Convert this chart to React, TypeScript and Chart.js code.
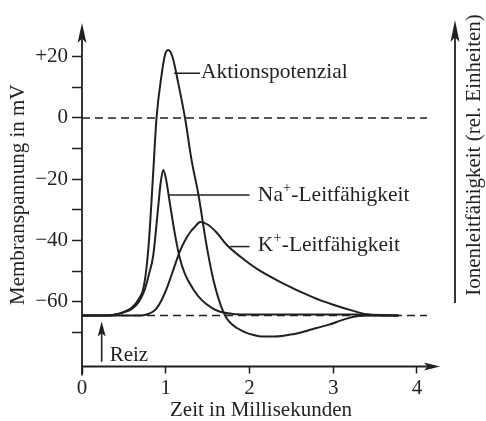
import React, { useEffect, useRef } from 'react';
import { Chart, registerables } from 'chart.js';

Chart.register(...registerables);

// ---------- data ----------
const restingPotential = -64.5;

const xTicks = [0, 1, 2, 3, 4];
const yTicks = [-70, -60, -50, -40, -30, -20, -10, 0, 10, 20];
const yLabelValues = [20, 0, -20, -40, -60];
const yLabelTexts = ['+20', '0', '\u221220', '\u221240', '\u221260'];

// Aktionspotenzial (mV)
const apTime = [0, 0.3, 0.4, 0.5, 0.6, 0.68, 0.73, 0.77, 0.8, 0.85, 0.89, 0.95, 0.99, 1.03, 1.08, 1.15, 1.23, 1.31, 1.39, 1.49, 1.57, 1.63, 1.69, 1.75, 1.85, 1.95, 2.05, 2.15, 2.3, 2.52, 2.75, 2.95, 3.15, 3.3, 3.45, 3.78];
const apValue = [-64.5, -64.5, -64.2, -63.3, -61.8, -59, -56, -49, -40, -18, 0, 14, 20.5, 22.2, 20, 11.3, 0, -14, -25, -42, -53, -59, -63.5, -66.3, -68.6, -70, -70.9, -71.4, -71.4, -70.6, -69, -67.5, -65.6, -64.7, -64.5, -64.5];

// Na+-Leitfähigkeit (relative, drawn on the same axis)
const naTime = [0, 0.3, 0.4, 0.5, 0.6, 0.68, 0.75, 0.8, 0.85, 0.91, 0.94, 0.97, 1.0, 1.05, 1.11, 1.17, 1.23, 1.33, 1.43, 1.55, 1.65, 1.8, 2.0, 3.3, 3.78];
const naValue = [-64.5, -64.5, -64.2, -63.5, -62.3, -60, -56, -51, -45, -29, -21, -17, -19.5, -28, -38, -46, -51, -56, -59.5, -62, -63.3, -64, -64.2, -64.2, -64.5];

// K+-Leitfähigkeit
const kTime = [0, 0.7, 0.78, 0.85, 0.89, 0.95, 1.0, 1.07, 1.17, 1.23, 1.3, 1.35, 1.41, 1.5, 1.61, 1.73, 1.9, 2.09, 2.37, 2.76, 3.0, 3.24, 3.4, 3.6, 3.78];
const kValue = [-64.5, -64.5, -64.1, -63.2, -62.2, -59.5, -56.5, -51.2, -43.5, -40, -37, -35.5, -34, -34.8, -37.5, -41.5, -45.5, -49.3, -53.6, -58.6, -61, -63, -64.1, -64.5, -64.5];

// ---------- style ----------
const INK = '#231f20';
const FF = '"Liberation Serif", "Times New Roman", serif';
const FONT_SIZE = 21;
const LABEL_SIZE = 21.5;

const toPoints = (t: number[], v: number[]) => t.map((x, i) => ({ x, y: v[i] }));

function arrowHead(ctx: CanvasRenderingContext2D, tipX: number, tipY: number, dir: 'up' | 'right', len: number, half: number) {
  ctx.beginPath();
  if (dir === 'up') {
    ctx.moveTo(tipX, tipY);
    ctx.lineTo(tipX - half, tipY + len);
    ctx.lineTo(tipX, tipY + len * 0.78);
    ctx.lineTo(tipX + half, tipY + len);
  } else {
    ctx.moveTo(tipX, tipY);
    ctx.lineTo(tipX - len, tipY - half);
    ctx.lineTo(tipX - len * 0.78, tipY);
    ctx.lineTo(tipX - len, tipY + half);
  }
  ctx.closePath();
  ctx.fill();
}

function ionLabel(ctx: CanvasRenderingContext2D, x: number, y: number, base: string, sup: string, rest: string) {
  ctx.textAlign = 'left';
  ctx.textBaseline = 'middle';
  ctx.font = `${LABEL_SIZE}px ${FF}`;
  ctx.fillText(base, x, y);
  let w = ctx.measureText(base).width;
  ctx.font = `14px ${FF}`;
  ctx.fillText(sup, x + w, y - 7);
  w += ctx.measureText(sup).width;
  ctx.font = `${LABEL_SIZE}px ${FF}`;
  ctx.fillText(rest, x + w + 0.5, y);
}

const overlayPlugin = {
  id: 'overlay',
  beforeDatasetsDraw(chart: any) {
    const { ctx, scales } = chart;
    const x = scales.x;
    const y = scales.y;
    ctx.save();
    ctx.strokeStyle = INK;
    ctx.lineWidth = 1.5;
    ctx.setLineDash([8, 5]);
    for (const v of [0, restingPotential]) {
      const py = y.getPixelForValue(v);
      ctx.beginPath();
      ctx.moveTo(x.getPixelForValue(0), py);
      ctx.lineTo(x.getPixelForValue(4.12), py);
      ctx.stroke();
    }
    ctx.restore();
  },
  afterDraw(chart: any) {
    const { ctx, scales, chartArea } = chart;
    const x = scales.x;
    const y = scales.y;
    ctx.save();
    ctx.strokeStyle = INK;
    ctx.fillStyle = INK;
    ctx.lineWidth = 1.8;

    // y axis with arrow
    const x0 = x.getPixelForValue(0);
    ctx.beginPath();
    ctx.moveTo(x0, chartArea.bottom + 9);
    ctx.lineTo(x0, chartArea.top + 8);
    ctx.stroke();
    arrowHead(ctx, x0, chartArea.top, 'up', 20, 4.5);

    // x axis with arrow
    ctx.beginPath();
    ctx.moveTo(x0, chartArea.bottom);
    ctx.lineTo(chartArea.right - 6, chartArea.bottom);
    ctx.stroke();
    arrowHead(ctx, chartArea.right, chartArea.bottom, 'right', 16, 4);

    // right axis (Ionenleitfähigkeit)
    const rx = 455;
    ctx.beginPath();
    ctx.moveTo(rx, y.getPixelForValue(-60.4));
    ctx.lineTo(rx, chartArea.top + 4);
    ctx.stroke();
    arrowHead(ctx, rx, chartArea.top - 3, 'up', 22, 4.5);

    ctx.save();
    ctx.translate(474, 155);
    ctx.rotate(-Math.PI / 2);
    ctx.font = `${FONT_SIZE}px ${FF}`;
    ctx.textAlign = 'center';
    ctx.textBaseline = 'middle';
    ctx.fillText('Ionenleitfähigkeit (rel. Einheiten)', 0, 0);
    ctx.restore();

    // Reiz arrow
    const reizX = x.getPixelForValue(0.235);
    ctx.lineWidth = 1.6;
    ctx.beginPath();
    ctx.moveTo(reizX, y.getPixelForValue(-79.6));
    ctx.lineTo(reizX, y.getPixelForValue(-66.5) + 10);
    ctx.stroke();
    arrowHead(ctx, reizX, y.getPixelForValue(-66.5), 'up', 15, 4);
    ctx.font = `${FONT_SIZE}px ${FF}`;
    ctx.textAlign = 'left';
    ctx.textBaseline = 'alphabetic';
    ctx.fillText('Reiz', x.getPixelForValue(0.33), y.getPixelForValue(-79.5));

    // leader lines + labels
    ctx.lineWidth = 1.5;
    const leader = (t1: number, t2: number, v: number) => {
      const py = y.getPixelForValue(v);
      ctx.beginPath();
      ctx.moveTo(x.getPixelForValue(t1), py);
      ctx.lineTo(x.getPixelForValue(t2), py);
      ctx.stroke();
    };
    leader(1.1, 1.41, 14.6);
    ctx.font = `${LABEL_SIZE}px ${FF}`;
    ctx.textBaseline = 'middle';
    ctx.fillText('Aktionspotenzial', x.getPixelForValue(1.42), y.getPixelForValue(14.6) - 1);

    leader(1.03, 2.0, -25.2);
    ionLabel(ctx, x.getPixelForValue(2.1), y.getPixelForValue(-25.2), 'Na', '+', '-Leitfähigkeit');

    leader(1.77, 2.0, -42);
    ionLabel(ctx, x.getPixelForValue(2.1), y.getPixelForValue(-41.7), 'K', '+', '-Leitfähigkeit');

    ctx.restore();
  },
};

export default function App() {
  const ref = useRef<HTMLCanvasElement>(null);

  useEffect(() => {
    const canvas = ref.current;
    if (!canvas) return;
    const font = { family: FF, size: FONT_SIZE };
    const lineStyle = {
      borderColor: INK,
      borderWidth: 2,
      pointRadius: 0,
      fill: false,
      cubicInterpolationMode: 'monotone' as const,
    };
    const chart = new Chart(canvas, {
      type: 'line',
      data: {
        datasets: [
          { label: 'Aktionspotenzial', data: toPoints(apTime, apValue), ...lineStyle },
          { label: 'Na+-Leitfähigkeit', data: toPoints(naTime, naValue), ...lineStyle },
          { label: 'K+-Leitfähigkeit', data: toPoints(kTime, kValue), ...lineStyle },
        ],
      },
      options: {
        animation: false,
        responsive: false,
        devicePixelRatio: 1,
        layout: { padding: { left: 0, right: 46, top: 23, bottom: 0 } },
        plugins: { legend: { display: false }, tooltip: { enabled: false } },
        scales: {
          x: {
            type: 'linear',
            min: 0,
            max: 4.275,
            afterBuildTicks: (s: any) => {
              s.ticks = xTicks.map((value) => ({ value }));
            },
            afterFit: (s: any) => {
              s.height = 54.5;
            },
            border: { display: false },
            grid: {
              drawOnChartArea: false,
              drawTicks: true,
              tickLength: 7,
              tickColor: INK,
              tickWidth: 1.5,
              color: INK,
            },
            ticks: {
              font,
              color: INK,
              padding: 2,
              maxRotation: 0,
              autoSkip: false,
              callback: (v: any) => String(v),
            },
            title: {
              display: true,
              text: 'Zeit in Millisekunden',
              font,
              color: INK,
              padding: { top: 0, bottom: -2.5 },
            },
          },
          y: {
            type: 'linear',
            min: -81.16,
            max: 31.0,
            afterBuildTicks: (s: any) => {
              s.ticks = yTicks.map((value) => ({ value }));
            },
            afterFit: (s: any) => {
              s.width = 82;
            },
            border: { display: false },
            grid: {
              drawOnChartArea: false,
              drawTicks: true,
              tickLength: 10,
              tickColor: INK,
              tickWidth: 1.5,
              color: INK,
            },
            ticks: {
              font,
              color: INK,
              padding: 4,
              autoSkip: false,
              callback: (v: any) => {
                const i = yLabelValues.indexOf(Number(v));
                return i >= 0 ? yLabelTexts[i] : '';
              },
            },
            title: {
              display: true,
              text: 'Membranspannung in mV',
              font,
              color: INK,
              padding: { top: 5.5, bottom: 0 },
            },
          },
        },
      },
      plugins: [overlayPlugin],
    });
    return () => chart.destroy();
  }, []);

  return (
    <div style={{ position: 'fixed', left: 0, top: 0, width: 486, height: 421, background: '#ffffff' }}>
      <canvas ref={ref} width={486} height={421} style={{ display: 'block', width: 486, height: 421 }} />
    </div>
  );
}
